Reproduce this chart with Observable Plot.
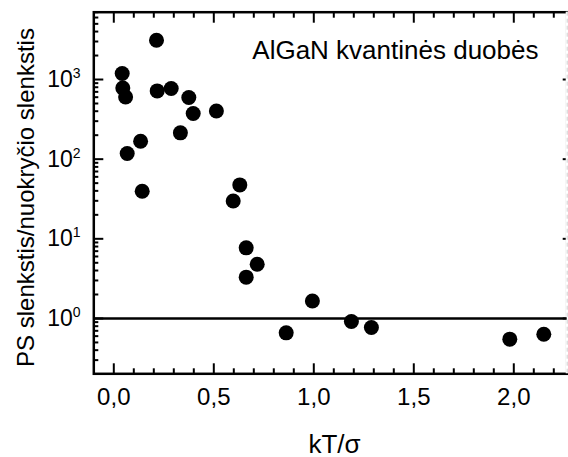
<!DOCTYPE html>
<html><head><meta charset="utf-8">
<script src="https://cdn.jsdelivr.net/npm/d3@7"></script>
<script src="https://cdn.jsdelivr.net/npm/@observablehq/plot@0.6"></script>
<style>body{margin:0;background:#fff}svg{font-family:"Liberation Sans",Arial,sans-serif}</style>
</head><body><div id="chart"></div>
<script>
const kT = [0.042, 0.045, 0.059, 0.067, 0.134, 0.142, 0.2135, 0.217, 0.287, 0.333, 0.375, 0.397, 0.513, 0.597, 0.63, 0.662, 0.662, 0.717, 0.862, 0.993, 1.188, 1.288, 1.98, 2.15];
const ratio = [1190, 784, 604, 118, 168, 39.6, 3110, 719, 771, 214, 594, 374, 403, 29.9, 47.5, 7.7, 3.3, 4.8, 0.66, 1.66, 0.917, 0.77, 0.55, 0.635];
const xMajor = [0, 0.5, 1.0, 1.5, 2.0];
const xMinor = [0.1,0.2,0.3,0.4,0.6,0.7,0.8,0.9,1.1,1.2,1.3,1.4,1.6,1.7,1.8,1.9,2.1,2.2];
const yMajor = [1, 10, 100, 1000];
const yExp = ["0", "1", "2", "3"];
const yMinor = [0.3,0.4,0.5,0.6,0.7,0.8,0.9,2,3,4,5,6,7,8,9,20,30,40,50,60,70,80,90,200,300,400,500,600,700,800,900,2000,3000,4000,5000,6000,7000];
const xDomain = [-0.1, 2.267];
const yDomain = [0.202, 7000];
const title = "AlGaN kvantinės duobės";
const xLabel = "kT/σ";
const yLabel = "PS slenkstis/nuokryčio slenkstis";

const W = 568, H = 457, mL = 93.3, mR = 1.3, mT = 11.7, mB = 83.7;
const data = kT.map((x, i) => ({x, y: ratio[i]}));
const fmt = d => d.toFixed(1).replace(".", ",");
const blank = () => "";
const tk = {strokeWidth: 2, stroke: "#000", tickFormat: blank, label: null};

const chart = Plot.plot({
  width: W, height: H,
  marginLeft: mL, marginRight: mR, marginTop: mT, marginBottom: mB,
  style: {fontFamily: '"Liberation Sans", Arial, sans-serif', color: "#000", background: "#fff"},
  x: {type: "linear", domain: xDomain},
  y: {type: "log", domain: yDomain},
  marks: [
    // inward ticks (negative tick size)
    Plot.axisX(xMajor, {anchor: "bottom", tickSize: -10, ...tk}),
    Plot.axisX(xMinor, {anchor: "bottom", tickSize: -5, ...tk}),
    Plot.axisX(xMajor, {anchor: "top", tickSize: -10, ...tk}),
    Plot.axisX(xMinor, {anchor: "top", tickSize: -5, ...tk}),
    Plot.axisY(yMajor, {anchor: "left", tickSize: -10, ...tk}),
    Plot.axisY(yMinor, {anchor: "left", tickSize: -5, ...tk}),
    Plot.axisY(yMajor, {anchor: "right", tickSize: -5, ...tk}),
    // frame
    Plot.frame({stroke: "#000", strokeWidth: 2.5}),
    Plot.ruleX([xDomain[1]], {x: d => d, stroke: "#fff", strokeWidth: 3}),
    Plot.ruleX([xDomain[1]], {x: d => d, stroke: "#cfcfcf", strokeWidth: 1, strokeDasharray: "4,3"}),
    // reference line at 1
    Plot.ruleY([1], {y: d => d, stroke: "#000", strokeWidth: 2.5}),
    // tick labels
    Plot.axisX(xMajor, {anchor: "bottom", tickSize: 0, tickPadding: 14.5, tickFormat: fmt, fontSize: 24, label: null}),
    Plot.axisY(yMajor, {anchor: "left", tickSize: 0, tickPadding: 21, tickFormat: () => "10", fontSize: 23, label: null}),
    Plot.text(yMajor, {y: d => d, text: (d, i) => yExp[i], frameAnchor: "left", textAnchor: "start", dx: -21, dy: -6, fontSize: 14}),
    // data
    Plot.dot(data, {x: "x", y: "y", r: 7.5, fill: "#000", stroke: null}),
    // titles
    Plot.text([title], {frameAnchor: "top-left", textAnchor: "start", lineAnchor: "bottom", dx: 158.5, dy: 46.6, fontSize: 26}),
    Plot.text([xLabel], {frameAnchor: "bottom", textAnchor: "middle", lineAnchor: "bottom", dx: 4, dy: 78.7, fontSize: 26}),
    Plot.text([yLabel], {frameAnchor: "left", rotate: -90, textAnchor: "middle", lineAnchor: "middle", dx: -67, dy: 4.5, fontSize: 24})
  ]
});
document.getElementById("chart").appendChild(chart);
</script></body></html>
